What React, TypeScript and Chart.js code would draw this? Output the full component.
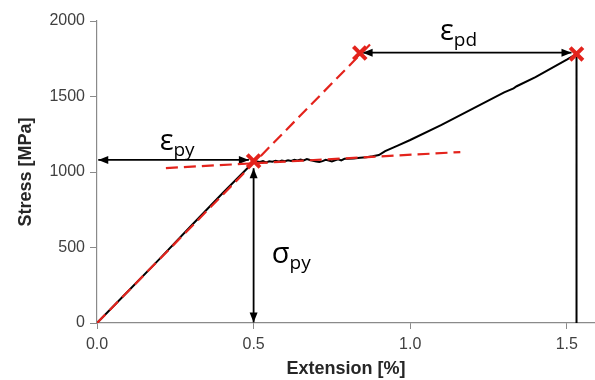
import React, { useEffect, useRef } from 'react';
import { Chart, registerables } from 'chart.js';

Chart.register(...registerables);

// Axis ticks
const xTicks = [0, 0.5, 1.0, 1.5];
const yTicks = [0, 500, 1000, 1500, 2000];

// Measured stress–extension curve (black)
const curveX = [0, 0.1, 0.2, 0.3, 0.4, 0.45, 0.5, 0.51, 0.52, 0.53, 0.54, 0.55, 0.56, 0.57, 0.58, 0.59, 0.6, 0.61, 0.62, 0.63, 0.64, 0.65, 0.66, 0.67, 0.68, 0.69, 0.7, 0.71, 0.72, 0.73, 0.74, 0.75, 0.76, 0.77, 0.78, 0.79, 0.8, 0.82, 0.84, 0.86, 0.88, 0.9, 0.92, 0.96, 1.0, 1.1, 1.2, 1.3, 1.33, 1.34, 1.4, 1.5, 1.531, 1.531];
const curveY = [0, 212, 425, 642, 858, 962, 1066, 1070, 1066, 1072, 1064, 1071, 1068, 1075, 1069, 1076, 1071, 1078, 1073, 1081, 1076, 1083, 1077, 1086, 1080, 1074, 1070, 1066, 1072, 1081, 1076, 1070, 1078, 1084, 1077, 1087, 1088, 1090, 1095, 1098, 1104, 1112, 1138, 1175, 1212, 1312, 1420, 1527, 1554, 1568, 1628, 1744, 1782, 0];

// Red dashed construction lines
const elasticX = [0, 0.88];
const elasticY = [0, 1862];
const plasticX = [0.22, 1.16];
const plasticY = [1026, 1132];

// Red cross markers
const markerX = [0.5, 0.839, 1.531];
const markerY = [1073, 1788, 1782];

// Double-headed arrows
const arrowX1 = [0.004, 0.5, 0.848];
const arrowY1 = [1080, 1025, 1790];
const arrowX2 = [0.485, 0.5, 1.515];
const arrowY2 = [1080, 4, 1790];

// Annotation labels
const labelMain = ['ε', 'σ', 'ε'];
const labelSub = ['py', 'py', 'pd'];
const labelX = [0.2, 0.558, 1.095];
const labelY = [1146, 397, 1874];

const toPts = (xs: number[], ys: number[]) => xs.map((x, i) => ({ x, y: ys[i] }));

const annotations = {
  id: 'annotations',
  beforeDatasetsDraw(chart: any) {
    const { ctx, scales } = chart;
    const xs = scales.x;
    const ys = scales.y;
    ctx.save();
    ctx.strokeStyle = '#000';
    ctx.fillStyle = '#000';
    ctx.lineWidth = 1.8;
    const head = (tx: number, ty: number, ang: number) => {
      const L = 10, W = 4;
      ctx.beginPath();
      ctx.moveTo(tx, ty);
      ctx.lineTo(tx - L * Math.cos(ang) + W * Math.sin(ang), ty - L * Math.sin(ang) - W * Math.cos(ang));
      ctx.lineTo(tx - L * Math.cos(ang) - W * Math.sin(ang), ty - L * Math.sin(ang) + W * Math.cos(ang));
      ctx.closePath();
      ctx.fill();
    };
    for (let i = 0; i < arrowX1.length; i++) {
      const x1 = xs.getPixelForValue(arrowX1[i]);
      const y1 = ys.getPixelForValue(arrowY1[i]);
      const x2 = xs.getPixelForValue(arrowX2[i]);
      const y2 = ys.getPixelForValue(arrowY2[i]);
      ctx.beginPath();
      ctx.moveTo(x1, y1);
      ctx.lineTo(x2, y2);
      ctx.stroke();
      const ang = Math.atan2(y2 - y1, x2 - x1);
      head(x2, y2, ang);
      head(x1, y1, ang + Math.PI);
    }
    ctx.textBaseline = 'alphabetic';
    ctx.textAlign = 'left';
    for (let i = 0; i < labelMain.length; i++) {
      const px = xs.getPixelForValue(labelX[i]);
      const py = ys.getPixelForValue(labelY[i]);
      ctx.font = '29px "Open Sans", "DejaVu Sans", sans-serif';
      ctx.fillText(labelMain[i], px, py);
      const w = ctx.measureText(labelMain[i]).width;
      ctx.font = '19px "Open Sans", "DejaVu Sans", sans-serif';
      ctx.fillText(labelSub[i], px + w, py + 6);
    }
    ctx.restore();
  },
};

export default function App() {
  const ref = useRef<HTMLCanvasElement>(null);
  useEffect(() => {
    if (!ref.current) return;
    const red = '#e3231c';
    const chart = new Chart(ref.current, {
      type: 'scatter',
      data: {
        datasets: [
          {
            data: toPts(curveX, curveY),
            showLine: true,
            borderColor: '#000',
            borderWidth: 2,
            pointRadius: 0,
            order: 3,
          },
          {
            data: toPts(elasticX, elasticY),
            showLine: true,
            borderColor: red,
            borderWidth: 2.2,
            borderDash: [12, 6],
            pointRadius: 0,
            order: 2,
          },
          {
            data: toPts(plasticX, plasticY),
            showLine: true,
            borderColor: red,
            borderWidth: 2.2,
            borderDash: [12, 6],
            pointRadius: 0,
            order: 2,
          },
          {
            data: toPts(markerX, markerY),
            showLine: false,
            pointStyle: 'crossRot',
            pointRadius: 9,
            pointBorderWidth: 4,
            pointBorderColor: red,
            pointBackgroundColor: red,
            order: 1,
            clip: false,
          },
        ],
      },
      plugins: [annotations],
      options: {
        animation: false,
        responsive: false,
        layout: { autoPadding: false, padding: { top: 21, right: 0, left: 0, bottom: 0 } },
        plugins: { legend: { display: false }, tooltip: { enabled: false } },
        scales: {
          x: {
            type: 'linear',
            min: 0,
            max: 1.59,
            afterBuildTicks: (s: any) => {
              s.ticks = xTicks.map((v) => ({ value: v }));
            },
            afterFit: (s: any) => {
              s.height = 57;
              s.paddingRight = 0;
              s.paddingLeft = 0;
            },
            grid: { display: true, drawOnChartArea: false, drawTicks: true, tickLength: 6, color: '#8a8a8a' },
            border: { color: '#8a8a8a', width: 1.2 },
            ticks: {
              color: '#404040',
              font: { family: '"Liberation Sans", Arial, sans-serif', size: 16 },
              padding: 6,
              maxRotation: 0,
              callback: (v: any) => Number(v).toFixed(1),
            },
            title: {
              display: true,
              text: 'Extension [%]',
              color: '#262626',
              font: { family: '"Liberation Sans", Arial, sans-serif', size: 18, weight: 'bold' },
              padding: { top: 7, bottom: 0 },
            },
          },
          y: {
            type: 'linear',
            min: 0,
            max: 2000,
            afterBuildTicks: (s: any) => {
              s.ticks = yTicks.map((v) => ({ value: v }));
            },
            afterFit: (s: any) => {
              s.width = 97;
            },
            grid: { display: true, drawOnChartArea: false, drawTicks: true, tickLength: 7, color: '#8a8a8a' },
            border: { color: '#8a8a8a', width: 1.2 },
            ticks: {
              color: '#404040',
              font: { family: '"Liberation Sans", Arial, sans-serif', size: 16 },
              padding: 5,
              callback: (v: any) => String(v),
            },
            title: {
              display: true,
              text: 'Stress [MPa]',
              color: '#262626',
              font: { family: '"Liberation Sans", Arial, sans-serif', size: 18, weight: 'bold' },
              padding: { top: 15, bottom: 0 },
            },
          },
        },
      },
    });
    return () => chart.destroy();
  }, []);
  return (
    <div style={{ position: 'fixed', left: 0, top: 0, width: 595, height: 380, background: '#fff' }}>
      <canvas ref={ref} width={595} height={380} style={{ width: 595, height: 380 }} />
    </div>
  );
}
